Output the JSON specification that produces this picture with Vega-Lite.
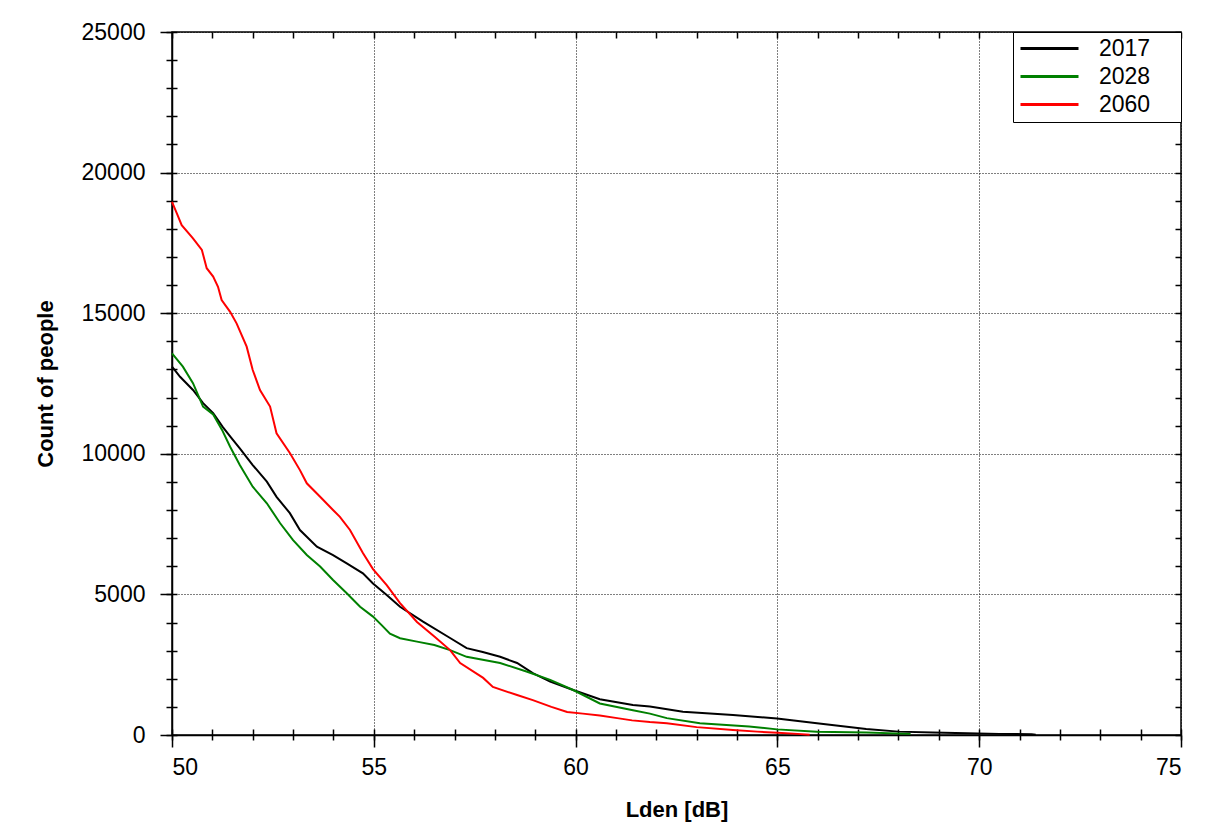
{
  "$schema": "https://vega.github.io/schema/vega-lite/v6.json",
  "width": 1009,
  "height": 703,
  "autosize": {"type": "none"},
  "padding": {"left": 172, "top": 32, "right": 25, "bottom": 103},
  "background": "white",
  "config": {
    "view": {"stroke": "black", "strokeWidth": 1.5},
    "font": "Liberation Sans",
    "axis": {
      "labelFont": "Liberation Sans",
      "titleFont": "Liberation Sans",
      "labelColor": "black",
      "titleColor": "black",
      "domainColor": "black",
      "tickColor": "black",
      "labelFontSize": 23,
      "titleFontSize": 22,
      "titleFontWeight": "bold",
      "tickWidth": 1.5,
      "domainWidth": 1.5
    }
  },
  "data": {
    "values": [
      {"L": 50.0, "count": 13100, "year": "2017"},
      {"L": 50.2, "count": 12740, "year": "2017"},
      {"L": 50.52, "count": 12270, "year": "2017"},
      {"L": 50.77, "count": 11800, "year": "2017"},
      {"L": 51.02, "count": 11450, "year": "2017"},
      {"L": 51.26, "count": 10950, "year": "2017"},
      {"L": 51.45, "count": 10600, "year": "2017"},
      {"L": 51.68, "count": 10190, "year": "2017"},
      {"L": 52.0, "count": 9600, "year": "2017"},
      {"L": 52.35, "count": 9010, "year": "2017"},
      {"L": 52.59, "count": 8470, "year": "2017"},
      {"L": 52.92, "count": 7890, "year": "2017"},
      {"L": 53.17, "count": 7290, "year": "2017"},
      {"L": 53.59, "count": 6700, "year": "2017"},
      {"L": 53.99, "count": 6400, "year": "2017"},
      {"L": 54.33, "count": 6100, "year": "2017"},
      {"L": 54.73, "count": 5750, "year": "2017"},
      {"L": 54.98, "count": 5390, "year": "2017"},
      {"L": 55.32, "count": 4980, "year": "2017"},
      {"L": 55.65, "count": 4560, "year": "2017"},
      {"L": 56.22, "count": 4030, "year": "2017"},
      {"L": 56.89, "count": 3450, "year": "2017"},
      {"L": 57.3, "count": 3090, "year": "2017"},
      {"L": 57.7, "count": 2950, "year": "2017"},
      {"L": 58.13, "count": 2780, "year": "2017"},
      {"L": 58.55, "count": 2560, "year": "2017"},
      {"L": 58.94, "count": 2200, "year": "2017"},
      {"L": 59.37, "count": 1900, "year": "2017"},
      {"L": 59.94, "count": 1600, "year": "2017"},
      {"L": 60.6, "count": 1270, "year": "2017"},
      {"L": 61.42, "count": 1070, "year": "2017"},
      {"L": 61.84, "count": 1010, "year": "2017"},
      {"L": 62.66, "count": 830, "year": "2017"},
      {"L": 63.9, "count": 710, "year": "2017"},
      {"L": 64.99, "count": 590, "year": "2017"},
      {"L": 65.98, "count": 415, "year": "2017"},
      {"L": 67.2, "count": 213, "year": "2017"},
      {"L": 68.0, "count": 120, "year": "2017"},
      {"L": 68.85, "count": 85, "year": "2017"},
      {"L": 69.7, "count": 60, "year": "2017"},
      {"L": 70.5, "count": 40, "year": "2017"},
      {"L": 71.3, "count": 30, "year": "2017"},
      {"L": 71.4, "count": 5, "year": "2017"},
      {"L": 50.0, "count": 13570, "year": "2028"},
      {"L": 50.27, "count": 13100, "year": "2028"},
      {"L": 50.52, "count": 12510, "year": "2028"},
      {"L": 50.77, "count": 11680, "year": "2028"},
      {"L": 51.02, "count": 11400, "year": "2028"},
      {"L": 51.24, "count": 10850, "year": "2028"},
      {"L": 51.44, "count": 10250, "year": "2028"},
      {"L": 51.68, "count": 9600, "year": "2028"},
      {"L": 52.0, "count": 8830, "year": "2028"},
      {"L": 52.35, "count": 8240, "year": "2028"},
      {"L": 52.68, "count": 7530, "year": "2028"},
      {"L": 53.0, "count": 6930, "year": "2028"},
      {"L": 53.34, "count": 6400, "year": "2028"},
      {"L": 53.67, "count": 5990, "year": "2028"},
      {"L": 53.99, "count": 5510, "year": "2028"},
      {"L": 54.33, "count": 5040, "year": "2028"},
      {"L": 54.66, "count": 4560, "year": "2028"},
      {"L": 54.98, "count": 4210, "year": "2028"},
      {"L": 55.2, "count": 3900, "year": "2028"},
      {"L": 55.4, "count": 3600, "year": "2028"},
      {"L": 55.65, "count": 3440, "year": "2028"},
      {"L": 56.07, "count": 3320, "year": "2028"},
      {"L": 56.5, "count": 3200, "year": "2028"},
      {"L": 56.89, "count": 3020, "year": "2028"},
      {"L": 57.3, "count": 2780, "year": "2028"},
      {"L": 58.13, "count": 2560, "year": "2028"},
      {"L": 58.8, "count": 2250, "year": "2028"},
      {"L": 59.37, "count": 1960, "year": "2028"},
      {"L": 59.94, "count": 1600, "year": "2028"},
      {"L": 60.6, "count": 1120, "year": "2028"},
      {"L": 61.42, "count": 880, "year": "2028"},
      {"L": 61.84, "count": 760, "year": "2028"},
      {"L": 62.26, "count": 600, "year": "2028"},
      {"L": 63.08, "count": 415, "year": "2028"},
      {"L": 64.3, "count": 300, "year": "2028"},
      {"L": 64.99, "count": 200, "year": "2028"},
      {"L": 65.98, "count": 120, "year": "2028"},
      {"L": 67.2, "count": 85, "year": "2028"},
      {"L": 68.3, "count": 40, "year": "2028"},
      {"L": 50.0, "count": 18960, "year": "2060"},
      {"L": 50.12, "count": 18550, "year": "2060"},
      {"L": 50.24, "count": 18130, "year": "2060"},
      {"L": 50.52, "count": 17660, "year": "2060"},
      {"L": 50.74, "count": 17250, "year": "2060"},
      {"L": 50.86, "count": 16600, "year": "2060"},
      {"L": 51.02, "count": 16300, "year": "2060"},
      {"L": 51.14, "count": 15940, "year": "2060"},
      {"L": 51.23, "count": 15470, "year": "2060"},
      {"L": 51.44, "count": 15050, "year": "2060"},
      {"L": 51.6, "count": 14640, "year": "2060"},
      {"L": 51.85, "count": 13810, "year": "2060"},
      {"L": 52.0, "count": 12980, "year": "2060"},
      {"L": 52.18, "count": 12270, "year": "2060"},
      {"L": 52.43, "count": 11680, "year": "2060"},
      {"L": 52.59, "count": 10730, "year": "2060"},
      {"L": 52.92, "count": 10030, "year": "2060"},
      {"L": 53.17, "count": 9420, "year": "2060"},
      {"L": 53.34, "count": 8950, "year": "2060"},
      {"L": 53.67, "count": 8470, "year": "2060"},
      {"L": 53.99, "count": 8000, "year": "2060"},
      {"L": 54.16, "count": 7760, "year": "2060"},
      {"L": 54.41, "count": 7290, "year": "2060"},
      {"L": 54.73, "count": 6470, "year": "2060"},
      {"L": 54.98, "count": 5900, "year": "2060"},
      {"L": 55.32, "count": 5330, "year": "2060"},
      {"L": 55.65, "count": 4690, "year": "2060"},
      {"L": 56.07, "count": 4020, "year": "2060"},
      {"L": 56.5, "count": 3500, "year": "2060"},
      {"L": 56.89, "count": 3020, "year": "2060"},
      {"L": 57.14, "count": 2560, "year": "2060"},
      {"L": 57.71, "count": 2030, "year": "2060"},
      {"L": 57.95, "count": 1710, "year": "2060"},
      {"L": 58.55, "count": 1420, "year": "2060"},
      {"L": 58.94, "count": 1240, "year": "2060"},
      {"L": 59.4, "count": 1000, "year": "2060"},
      {"L": 59.79, "count": 820, "year": "2060"},
      {"L": 60.18, "count": 760, "year": "2060"},
      {"L": 60.6, "count": 690, "year": "2060"},
      {"L": 61.03, "count": 600, "year": "2060"},
      {"L": 61.4, "count": 520, "year": "2060"},
      {"L": 61.84, "count": 460, "year": "2060"},
      {"L": 62.26, "count": 420, "year": "2060"},
      {"L": 63.0, "count": 280, "year": "2060"},
      {"L": 63.9, "count": 180, "year": "2060"},
      {"L": 64.5, "count": 120, "year": "2060"},
      {"L": 65.0, "count": 80, "year": "2060"},
      {"L": 65.5, "count": 40, "year": "2060"},
      {"L": 65.8, "count": 10, "year": "2060"}
    ]
  },
  "layer": [
    {
      "mark": {"type": "line", "strokeWidth": 2},
      "encoding": {
        "x": {
          "field": "L", "type": "quantitative",
          "scale": {"domain": [50, 75], "nice": false, "zero": false},
          "axis": {
            "orient": "bottom",
            "values": [50, 55, 60, 65, 70, 75],
            "tickSize": 12,
            "labelPadding": 9,
            "grid": true,
            "gridColor": "black",
            "gridDash": [1, 2],
            "gridWidth": 1,
            "title": "Lden [dB]",
            "titlePadding": 20
          }
        },
        "y": {
          "field": "count", "type": "quantitative",
          "scale": {"domain": [0, 25000], "nice": false},
          "axis": {
            "orient": "left",
            "values": [0, 5000, 10000, 15000, 20000, 25000],
            "format": "d",
            "tickSize": 12,
            "labelPadding": 15,
            "grid": true,
            "gridColor": "black",
            "gridDash": [1, 2],
            "gridWidth": 1,
            "title": "Count of people",
            "titlePadding": 24
          }
        },
        "color": {
          "field": "year", "type": "nominal",
          "scale": {"domain": ["2017", "2028", "2060"], "range": ["#000000", "#008000", "#ff0000"]},
          "legend": {
            "title": null,
            "orient": "top-right",
            "offset": 0,
            "strokeColor": "black",
            "fillColor": "white",
            "padding": 5,
            "labelFont": "Liberation Sans",
            "labelFontSize": 23,
            "labelColor": "black",
            "symbolType": "M-2.9,0H2.9",
            "symbolSize": 400,
            "symbolStrokeWidth": 3,
            "symbolOffset": 20,
            "labelOffset": 38,
            "rowPadding": 4,
            "labelExpr": "datum.label + '\u00a0\u00a0\u00a0\u00a0\u200b'"
          }
        }
      }
    },
    {
      "mark": {"type": "line", "opacity": 0},
      "encoding": {
        "x": {
          "field": "L", "type": "quantitative",
          "axis": {
            "orient": "bottom",
            "values": [50, 51, 52, 53, 54, 55, 56, 57, 58, 59, 60, 61, 62, 63, 64, 65, 66, 67, 68, 69, 70, 71, 72, 73, 74, 75],
            "tickSize": 11,
            "offset": -6,
            "domain": false,
            "labels": false,
            "grid": false,
            "title": null
          }
        },
        "y": {
          "field": "count", "type": "quantitative",
          "axis": {
            "orient": "left",
            "values": [0, 1000, 2000, 3000, 4000, 5000, 6000, 7000, 8000, 9000, 10000, 11000, 12000, 13000, 14000, 15000, 16000, 17000, 18000, 19000, 20000, 21000, 22000, 23000, 24000, 25000],
            "tickSize": 11,
            "offset": -5,
            "domain": false,
            "labels": false,
            "grid": false,
            "title": null
          }
        }
      }
    },
    {
      "mark": {"type": "line", "opacity": 0},
      "encoding": {
        "x": {
          "field": "L", "type": "quantitative",
          "axis": {
            "orient": "top",
            "values": [50, 51, 52, 53, 54, 55, 56, 57, 58, 59, 60, 61, 62, 63, 64, 65, 66, 67, 68, 69, 70, 71, 72, 73, 74, 75],
            "tickSize": 6,
            "offset": -6,
            "domain": false,
            "labels": false,
            "grid": false,
            "title": null
          }
        },
        "y": {
          "field": "count", "type": "quantitative",
          "axis": {
            "orient": "right",
            "values": [0, 1000, 2000, 3000, 4000, 5000, 6000, 7000, 8000, 9000, 10000, 11000, 12000, 13000, 14000, 15000, 16000, 17000, 18000, 19000, 20000, 21000, 22000, 23000, 24000, 25000],
            "tickSize": 6,
            "offset": -6,
            "domain": false,
            "labels": false,
            "grid": false,
            "title": null
          }
        }
      }
    }
  ],
  "resolve": {"axis": {"x": "independent", "y": "independent"}}
}
